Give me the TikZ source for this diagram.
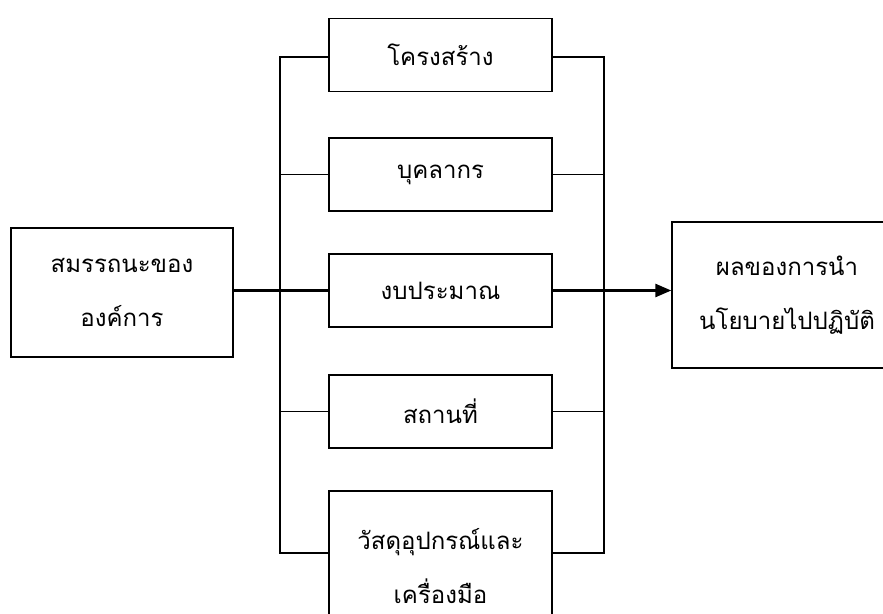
\documentclass[tikz,border=0pt]{standalone}
\usepackage{fontspec}
\newfontfamily\thaifont[Script=Thai]{Loma}
\usetikzlibrary{arrows.meta}
\begin{document}
\begin{tikzpicture}%
	[x=1pt,y=-1pt,
	box/.style={draw=black, line width=1.4pt, fill=white, minimum width=223pt, minimum height=73pt, inner sep=0pt, align=center,
		font=\thaifont\fontsize{24}{54}\selectfont},
	sidebox/.style={box, minimum width=222pt},
	bar/.style={draw=black, line width=1.2pt},
	flow/.style={draw=black, line width=2.6pt}]
\useasboundingbox[fill=white] (0,0) rectangle (883,613);
%%
%% Drawing the boxes
%%
\node[sidebox, minimum height=129pt] (org) at (122,292.5) {สมรรถนะของ\\องค์การ};
\node[box] (struct) at (440.5,55) {โครงสร้าง};
\node[box] (staff) at (440.5,174.5) {บุคลากร};
\node[box] (budget) at (440.5,290.5) {งบประมาณ};
\node[box] (place) at (440.5,411.5) {สถานที่};
\node[box, minimum height=150pt] (tools) at (440.5,566) {วัสดุอุปกรณ์และ\\เครื่องมือ};
\node[sidebox, minimum width=230pt, minimum height=146pt] (result) at (787,295) {ผลของการนำ\\นโยบายไปปฏิบัติ};
%%
%% Drawing the brackets
%%
\coordinate (lt) at (280,57);
\coordinate (lb) at (280,553);
\coordinate (rt) at (604,57);
\coordinate (rb) at (604,553);
\draw[bar] (struct.west |- lt) -- (lt) -- (lb) -- (lb -| tools.west);
\draw[bar] (struct.east |- rt) -- (rt) -- (rb) -- (rb -| tools.east);
\draw[bar] (staff.west) -- (staff.west -| lt);
\draw[bar] (staff.east) -- (staff.east -| rt);
\draw[bar] (place.west) -- (place.west -| lt);
\draw[bar] (place.east) -- (place.east -| rt);
%%
%% Drawing the main flow
%%
\draw[flow] (org.east |- budget.west) -- (budget.west);
\draw[flow, -{Triangle[length=16pt,width=13pt]}] (budget.east) -- (budget.east -| result.west);
%%
\end{tikzpicture}
\end{document}
